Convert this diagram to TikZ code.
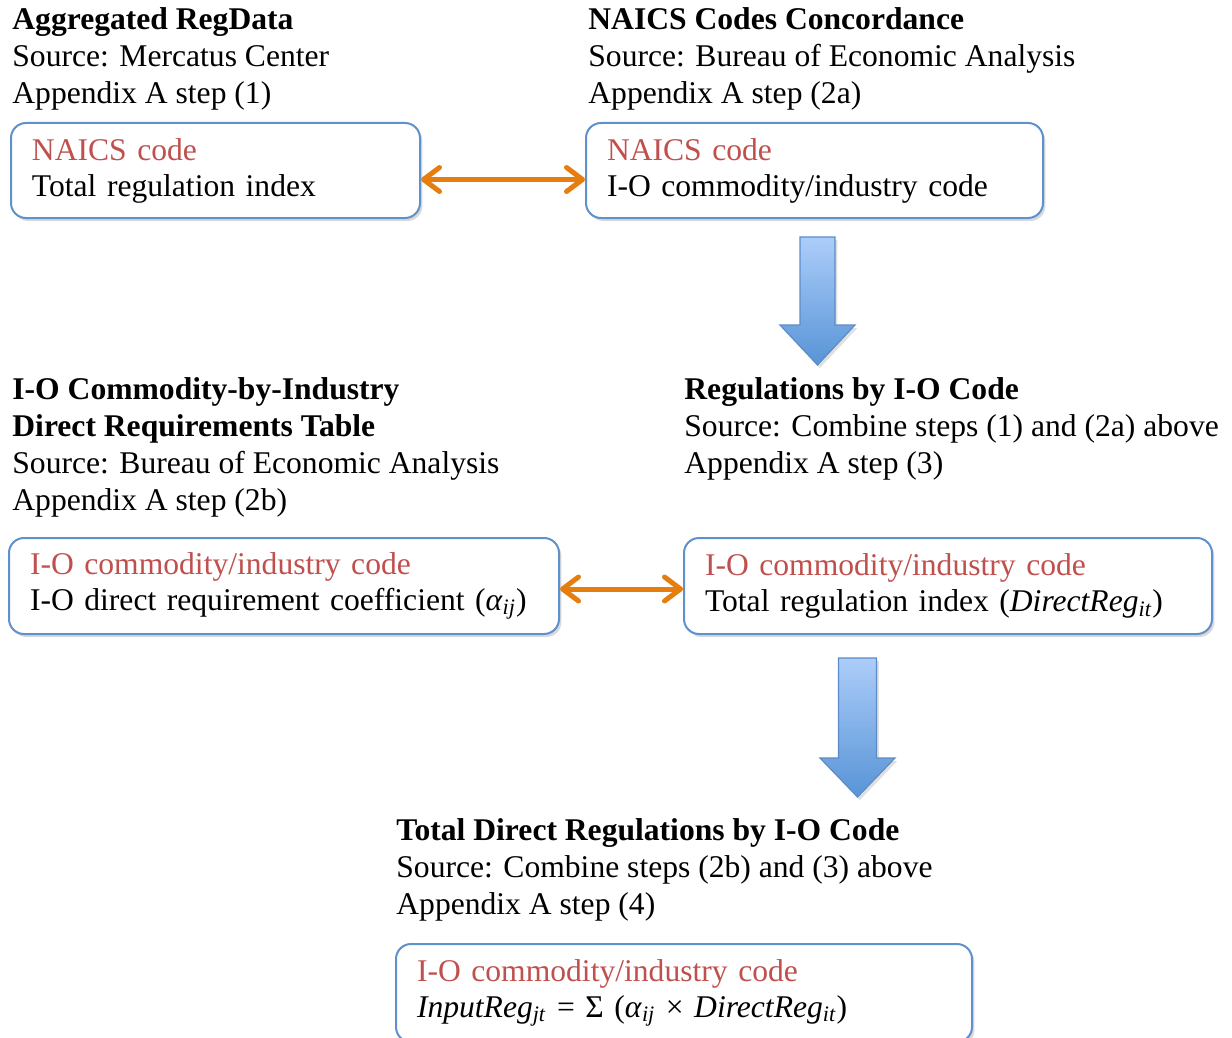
\documentclass[tikz,border=0pt]{standalone}
\usepackage{fontspec}
\setmainfont{Liberation Serif}
\usepackage{tikz}
\usepackage{xcolor}
\usetikzlibrary{positioning, arrows.meta, shadows}

\definecolor{boxblue}{RGB}{95,145,205}
\definecolor{codered}{RGB}{192,80,77}
\definecolor{linkorange}{RGB}{230,125,15}
\definecolor{flowlight}{RGB}{172,205,250}
\definecolor{flowdark}{RGB}{88,148,214}
\definecolor{flowedge}{RGB}{92,140,200}

\begin{document}
\begin{tikzpicture}[
  x=0.5pt, y=-0.5pt,
  every node/.style={font=\fontsize{15.8}{18.5}\selectfont},
  hdr/.style={anchor=base west, align=left, inner sep=0pt},
  box/.style={draw=boxblue, line width=1pt, rounded corners=7.5pt, fill=white,
    anchor=north west, align=left, inner xsep=10.5pt, inner ysep=0pt,
    minimum height=47.5pt, font=\fontsize{15.8}{18}\selectfont,
    drop shadow={shadow xshift=1.2pt, shadow yshift=-1.5pt, opacity=0.25, fill=black!60}},
  code/.style={color=codered},
  link/.style={{Straight Barb[round, length=8pt, width=12pt]}-{Straight Barb[round, length=8pt, width=12pt]},
    line width=2.5pt, linkorange},
  flow/.style={draw=flowedge, line width=0.6pt, top color=flowlight, bottom color=flowdark,
    drop shadow={shadow xshift=1.2pt, shadow yshift=-1.5pt, opacity=0.2, fill=black!60}}
]
\useasboundingbox (0,0) rectangle (1232,1038);

% Top row: RegData and concordance (headers anchored at last baseline)
\node[hdr] (regdatahdr) at (12,104) {\textbf{Aggregated RegData}\\Source: Mercatus Center\\Appendix A step (1)};
\node[hdr] (concordhdr) at (588,104) {\textbf{NAICS Codes Concordance}\\Source: Bureau of Economic Analysis\\Appendix A step (2a)};

\node[box, text width=183.5pt] (regdata) at (10,122) {\textcolor{codered}{NAICS code}\\Total regulation index};
\node[box, text width=207.5pt] (concord) at (585,122) {\textcolor{codered}{NAICS code}\\I-O commodity/industry code};

% Middle row: direct requirements and regulations by I-O code
\node[hdr] (reqhdr) at (12,510) {\textbf{I-O Commodity-by-Industry}\\\textbf{Direct Requirements Table}\\Source: Bureau of Economic Analysis\\Appendix A step (2b)};
\node[hdr] (iohdr) at (684,473) {\textbf{Regulations by I-O Code}\\Source: Combine steps (1) and (2a) above\\Appendix A step (3)};

\node[box, text width=254pt, minimum height=48pt] (reqtable) at (8,537) {\textcolor{codered}{I-O commodity/industry code}\\I-O direct requirement coefficient (\textit{α}\textsubscript{\textit{ij}})};
\node[box, text width=243pt, minimum height=48pt] (ioreg) at (683,537) {\textcolor{codered}{I-O commodity/industry code}\\Total regulation index (\textit{DirectReg}\textsubscript{\textit{it}})};

% Bottom row: total direct regulations
\node[hdr] (totalhdr) at (396,914) {\textbf{Total Direct Regulations by I-O Code}\\Source: Combine steps (2b) and (3) above\\Appendix A step (4)};
\node[box, text width=267pt, minimum height=49pt] (totalreg) at (395,943) {\textcolor{codered}{I-O commodity/industry code}\\\textit{InputReg}\textsubscript{\textit{jt}} = Σ (\textit{α}\textsubscript{\textit{ij}} × \textit{DirectReg}\textsubscript{\textit{it}})};

% Merge arrows
\draw[link] ([yshift=-4.5pt]regdata.east) -- ([yshift=-4.5pt]concord.west);
\draw[link] ([yshift=-1.5pt]reqtable.east) -- ([yshift=-1.5pt]ioreg.west);

% Block arrows down
\coordinate (down1) at (817.5,237);
\coordinate (down2) at (857.5,658);
\path[flow] (down1) ++(-17.5,0) -- ++(35,0) -- ++(0,88) -- ++(20,0) -- ++(-37.5,40)
  -- ++(-37.5,-40) -- ++(20,0) -- cycle;
\path[flow] (down2) ++(-19,0) -- ++(38,0) -- ++(0,100) -- ++(18.5,0) -- ++(-37.5,39)
  -- ++(-37.5,-39) -- ++(18.5,0) -- cycle;

\end{tikzpicture}
\end{document}
